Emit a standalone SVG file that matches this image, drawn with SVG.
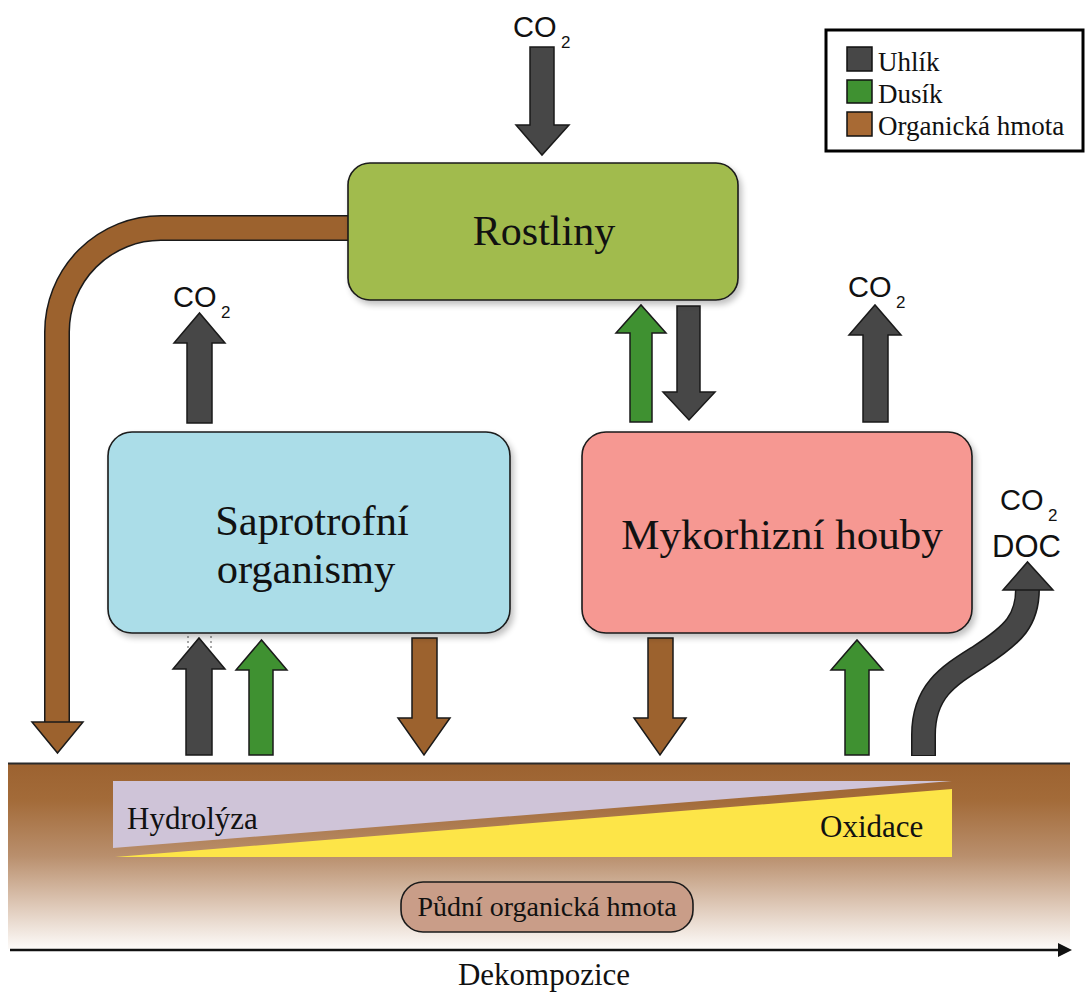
<svg xmlns="http://www.w3.org/2000/svg" width="1086" height="992" viewBox="0 0 1086 992">
<defs>
<linearGradient id="soil" x1="0" y1="0" x2="0" y2="1">
<stop offset="0" stop-color="#9c6230"/>
<stop offset="0.2" stop-color="#a36b39"/>
<stop offset="0.5" stop-color="#b98f6d"/>
<stop offset="0.75" stop-color="#dcc5b3"/>
<stop offset="1" stop-color="#fdfbf9"/>
</linearGradient>
<filter id="sh" x="-5%" y="-5%" width="115%" height="120%">
<feGaussianBlur in="SourceAlpha" stdDeviation="3"/>
<feOffset dx="3" dy="4"/>
<feComponentTransfer><feFuncA type="linear" slope="0.25"/></feComponentTransfer>
<feMerge><feMergeNode/><feMergeNode in="SourceGraphic"/></feMerge>
</filter>
</defs>
<style>
.arr{stroke:#1a1a1a;stroke-width:1.5;stroke-linejoin:miter}
.c{fill:#474747}
.n{fill:#3f9131}
.o{fill:#9c622e}
.box{stroke:#1a1a1a;stroke-width:1.6}
.serif{font-family:"Liberation Serif","Times New Roman",serif;fill:#111}
.sans{font-family:"Liberation Sans",Arial,sans-serif;fill:#111}
</style>
<rect width="1086" height="992" fill="#ffffff"/>

<g id="soil-layer">
<rect x="8" y="763" width="1062" height="186" fill="url(#soil)"/>
<line x1="8" y1="763.5" x2="1070" y2="763.5" stroke="#2a2a2a" stroke-width="2"/>
<polygon points="113,781 952,781 113,848" fill="#cfc4d8"/>
<polygon points="952,789 952,857 115,857" fill="#fde548"/>
<text class="serif" x="127" y="829" font-size="31">Hydrolýza</text>
<text class="serif" x="820" y="837" font-size="31">Oxidace</text>
</g>

<g id="pudni-organicka-hmota">
<rect class="box" x="401" y="882" width="292" height="50" rx="22" fill="#c99d88"/>
<text class="serif" x="547" y="916" font-size="28" text-anchor="middle">Půdní organická hmota</text>
</g>

<g id="connectors">
<path d="M 350 228 L 161 228 A 104 104 0 0 0 57 332 L 57 724" fill="none" stroke="#1a1a1a" stroke-width="26"/>
<path d="M 350 228 L 161 228 A 104 104 0 0 0 57 332 L 57 725" fill="none" stroke="#9c622e" stroke-width="23"/>
<polygon class="arr o" points="32,722 83,722 57.5,753"/>

<path class="arr c" d="M530 47 L554 47 L554 125 L569 125 L542 155 L516 125 L530 125 Z"/>
<path class="arr c" d="M187 423 L187 343 L174 343 L199.5 313 L225 343 L212 343 L212 423 Z"/>
<path class="arr n" d="M630 422 L630 333 L616 333 L641 305 L666 333 L652 333 L652 422 Z"/>
<path class="arr c" d="M677 306 L700 306 L700 392 L715 392 L689 420 L663 392 L677 392 Z"/>
<path class="arr c" d="M863 422 L863 335 L849 335 L875 305 L901 335 L888 335 L888 422 Z"/>
<path class="arr c" d="M186 755 L186 669 L173 669 L199 638 L225 669 L212 669 L212 755 Z"/>
<line x1="188" y1="636" x2="188" y2="649" stroke="#555" stroke-width="1" stroke-dasharray="2 3"/>
<line x1="211" y1="636" x2="211" y2="649" stroke="#555" stroke-width="1" stroke-dasharray="2 3"/>
<path class="arr n" d="M249 755 L249 670 L236 670 L261.5 640 L287 670 L273 670 L273 755 Z"/>
<path class="arr o" d="M412 638 L437 638 L437 718 L450 718 L424 755 L398 718 L412 718 Z"/>
<path class="arr o" d="M648 638 L673 638 L673 718 L686 718 L660 755 L634 718 L648 718 Z"/>
<path class="arr n" d="M845 755 L845 670 L831 670 L857 640 L883 670 L869 670 L869 755 Z"/>
<path d="M 923.5 756 L 923.5 735 C 923.5 690, 950 675, 980 656 C 1014 634, 1027.5 620, 1027.5 589" fill="none" stroke="#1a1a1a" stroke-width="25"/>
<path d="M 923.5 755 L 923.5 735 C 923.5 690, 950 675, 980 656 C 1014 634, 1027.5 620, 1027.5 588" fill="none" stroke="#474747" stroke-width="22"/>
<polygon class="arr c" points="1003,590 1053,590 1027.5,562"/>

<line x1="10" y1="950" x2="1060" y2="950" stroke="#111" stroke-width="2.5"/>
<polygon points="1058,943 1072,950 1058,957" fill="#111"/>
</g>

<g id="co2-labels">
<text class="sans" x="513" y="37" font-size="29">CO</text><text class="sans" x="561" y="48" font-size="17">2</text>
<text class="sans" x="173" y="307" font-size="29">CO</text><text class="sans" x="221" y="318" font-size="17">2</text>
<text class="sans" x="848" y="297" font-size="29">CO</text><text class="sans" x="896" y="308" font-size="17">2</text>
<text class="sans" x="1000" y="510" font-size="29">CO</text><text class="sans" x="1048" y="521" font-size="17">2</text>
<text class="sans" x="992" y="557" font-size="31">DOC</text>
</g>

<g id="rostliny">
<rect class="box" x="348" y="163" width="390" height="137" rx="22" fill="#a1bb4e" filter="url(#sh)"/>
<text class="serif" x="544" y="245" font-size="42" text-anchor="middle">Rostliny</text>
</g>

<g id="saprotrofni-organismy">
<rect class="box" x="108" y="432" width="402" height="201" rx="24" fill="#abdde8" filter="url(#sh)"/>
<text class="serif" x="312" y="535" font-size="42.5" text-anchor="middle">Saprotrofní</text>
<text class="serif" x="306" y="583" font-size="42.5" text-anchor="middle">organismy</text>
</g>

<g id="mykorhizni-houby">
<rect class="box" x="582" y="432" width="390" height="201" rx="24" fill="#f69892" filter="url(#sh)"/>
<text class="serif" x="782" y="549" font-size="43" text-anchor="middle">Mykorhizní houby</text>
</g>

<g id="dekompozice">
<text class="serif" x="544" y="985" font-size="31" text-anchor="middle">Dekompozice</text>
</g>

<g id="legend">
<rect x="826" y="30" width="257" height="121" fill="#fff" stroke="#000" stroke-width="3"/>
<rect x="847" y="47" width="25" height="24" fill="#474747" stroke="#111" stroke-width="1.5"/>
<rect x="847" y="80" width="25" height="23" fill="#3f9131" stroke="#111" stroke-width="1.5"/>
<rect x="847" y="112" width="25" height="24" fill="#a86a34" stroke="#111" stroke-width="1.5"/>
<text class="serif" x="878" y="71" font-size="27">Uhlík</text>
<text class="serif" x="878" y="103" font-size="27">Dusík</text>
<text class="serif" x="878" y="135" font-size="27">Organická hmota</text>
</g>
</svg>
